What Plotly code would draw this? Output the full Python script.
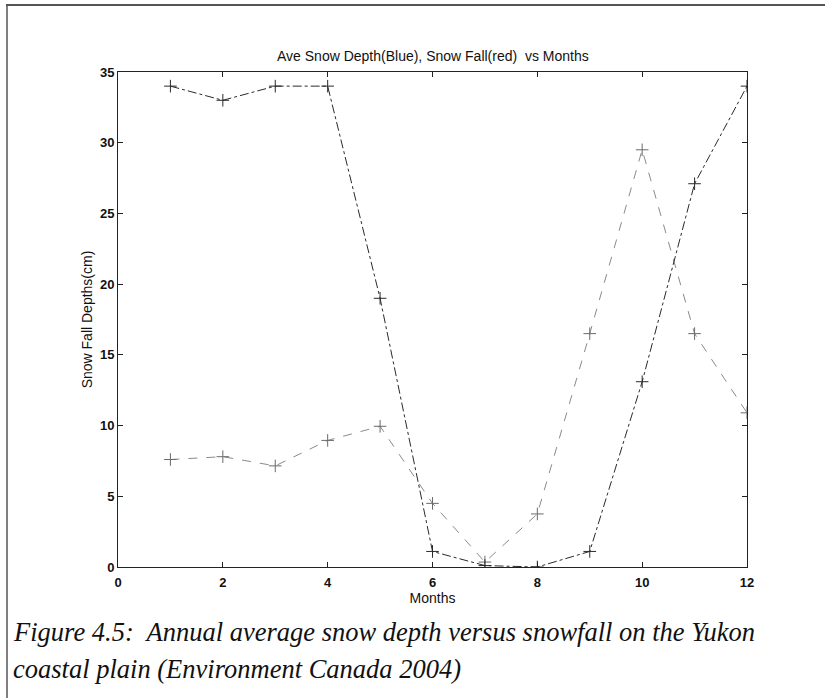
import plotly.graph_objects as go

months = [1, 2, 3, 4, 5, 6, 7, 8, 9, 10, 11, 12]
snow_depth = [34.0, 33.0, 34.0, 34.0, 19.0, 1.1, 0.1, 0.0, 1.1, 13.1, 27.1, 34.0]
snow_fall = [7.6, 7.8, 7.15, 8.95, 9.95, 4.5, 0.35, 3.75, 16.5, 29.5, 16.5, 10.9]

x_ticks = [0, 2, 4, 6, 8, 10, 12]
y_ticks = [0, 5, 10, 15, 20, 25, 30, 35]

W, H = 825, 698
L, R, T, B = 118, 78, 72, 131
pw, ph = W - L - R, H - T - B

def px(x):
    return (x - L) / pw

def py(y):
    return (H - B - y) / ph

fig = go.Figure()
fig.add_trace(go.Scatter(
    x=months, y=snow_fall, mode="lines+markers",
    line=dict(color="#8a8a8a", width=1, dash="dash"),
    marker=dict(symbol="cross-thin", size=9, line=dict(color="#6a6a6a", width=1)),
    showlegend=False))
fig.add_trace(go.Scatter(
    x=months, y=snow_depth, mode="lines+markers",
    line=dict(color="#2a2a2a", width=1, dash="dashdot"),
    marker=dict(symbol="cross-thin", size=9, line=dict(color="#2a2a2a", width=1)),
    showlegend=False))

tick_font = dict(family="Liberation Sans, Arial", size=13, color="#111", weight="bold")
lab_font = dict(family="Liberation Sans, Arial", size=14, color="#111")
fig.update_xaxes(range=[0, 12], tickvals=x_ticks, ticks="inside", ticklen=5,
                 tickcolor="#222", showline=True, linecolor="#222", linewidth=1,
                 mirror="ticks", showgrid=False, zeroline=False, ticklabelstandoff=3,
                 tickfont=tick_font,
                 title=dict(text="Months", font=lab_font, standoff=3))
fig.update_yaxes(range=[0, 35], tickvals=y_ticks, ticks="inside", ticklen=5,
                 tickcolor="#222", showline=True, linecolor="#222", linewidth=1,
                 mirror="ticks", showgrid=False, zeroline=False,
                 tickfont=tick_font,
                 title=dict(text="Snow Fall Depths(cm)", font=lab_font, standoff=4))

fig.add_annotation(text="Ave Snow Depth(Blue), Snow Fall(red)  vs Months",
                   xref="paper", yref="paper", x=0.5, y=py(56), xanchor="center", yanchor="middle",
                   showarrow=False, font=dict(family="Liberation Sans, Arial", size=14, color="#111"))

cap_font = dict(family="Liberation Serif, Times New Roman", size=26.5, color="#111", style="italic")
fig.add_annotation(text="Figure 4.5:  Annual average snow depth versus snowfall on the Yukon",
                   xref="paper", yref="paper", x=px(11), y=py(632), xanchor="left", yanchor="middle",
                   showarrow=False, font=cap_font)
fig.add_annotation(text="coastal plain (Environment Canada 2004)",
                   xref="paper", yref="paper", x=px(11), y=py(669), xanchor="left", yanchor="middle",
                   showarrow=False, font=cap_font)

# outer frame (top and left edges)
fig.add_shape(type="line", xref="paper", yref="paper", x0=px(6), x1=px(825), y0=py(5), y1=py(5),
              line=dict(color="#555", width=2))
fig.add_shape(type="line", xref="paper", yref="paper", x0=px(7), x1=px(7), y0=py(5), y1=py(698),
              line=dict(color="#555", width=1.5))

fig.update_layout(width=W, height=H, margin=dict(l=L, r=R, t=T, b=B),
                  paper_bgcolor="white", plot_bgcolor="white")

fig.write_html("out.html")
